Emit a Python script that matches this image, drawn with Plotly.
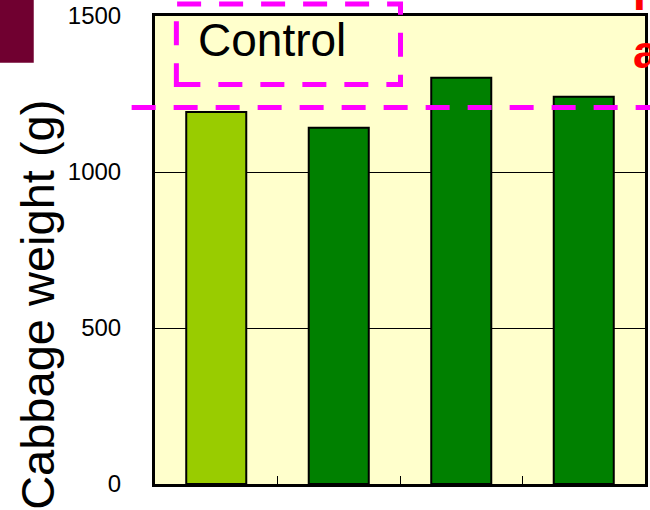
import plotly.graph_objects as go

# ---- data ----
categories = ["Control", "Treatment 1", "Treatment 2", "Treatment 3"]
weights = [1192, 1142, 1302, 1241]
bar_colors = ["#99CC00", "#008000", "#008000", "#008000"]
control_level = 1207
y_ticks = [0, 500, 1000, 1500]
y_title = "Cabbage weight (g)"
box_label = "Control"

# ---- layout geometry (pixels) ----
W, H = 650, 510
L, R, T, B = 155, 2, 13, 26
PW, PH = W - L - R, H - T - B


def px(x):
    return (x - L) / PW


def py(y):
    return (H - B - y) / PH


FONT = "Liberation Sans, Arial, sans-serif"
MAG = "#FF00FF"

fig = go.Figure(
    go.Bar(
        x=categories,
        y=weights,
        marker=dict(color=bar_colors, line=dict(color="black", width=2)),
        width=0.49,
    )
)

fig.update_layout(
    width=W,
    height=H,
    margin=dict(l=L, r=R, t=T, b=B),
    paper_bgcolor="white",
    plot_bgcolor="#FFFFCC",
    showlegend=False,
    font=dict(family=FONT, color="black"),
)

fig.update_xaxes(
    type="category",
    showticklabels=False,
    tickson="boundaries",
    ticks="inside",
    ticklen=8,
    tickwidth=1,
    tickcolor="black",
    showgrid=False,
    showline=True,
    linecolor="black",
    linewidth=3,
    mirror=True,
)
fig.update_yaxes(
    range=[0, 1500],
    tickvals=y_ticks,
    ticktext=[str(v) for v in y_ticks],
    tickfont=dict(size=24, family=FONT, color="black"),
    ticks="",
    ticklabelstandoff=26,
    ticklabeloverflow="allow",
    showgrid=True,
    gridcolor="black",
    gridwidth=1,
    zeroline=False,
    showline=True,
    linecolor="black",
    linewidth=3,
    mirror=True,
)

shapes = [
    # dark red block at top-left
    dict(type="rect", xref="paper", yref="paper",
         x0=px(0) - 0.01, x1=px(33), y0=py(60), y1=py(-5),
         fillcolor="#700030", line=dict(width=0), layer="above"),
    # control reference dashed line
    dict(type="line", xref="paper", yref="y",
         x0=px(131.5), x1=px(660), y0=control_level, y1=control_level,
         line=dict(color=MAG, width=5, dash="24px,18px"), layer="above"),
    # dashed box around the "Control" label
    dict(type="rect", xref="paper", yref="paper",
         x0=px(176.5), x1=px(402), y0=py(82), y1=py(1),
         line=dict(color=MAG, width=5, dash="24px,18px"), layer="above"),
]
fig.update_layout(shapes=shapes)

annotations = [
    dict(text=y_title, xref="paper", yref="paper", x=px(36), y=py(304),
         xanchor="center", yanchor="middle", textangle=-90, showarrow=False,
         font=dict(size=47, family=FONT, color="black")),
    dict(text=box_label, xref="paper", yref="paper", x=px(272.5), y=py(37),
         xanchor="center", yanchor="middle", showarrow=False,
         font=dict(size=46, family=FONT, color="black")),
    dict(text="<b>a</b>", xref="paper", yref="paper", x=px(634), y=py(49),
         xanchor="left", yanchor="middle", showarrow=False,
         font=dict(size=46, family=FONT, color="#FF0000")),
    dict(text="<b>I</b>", xref="paper", yref="paper", x=px(634), y=py(-9),
         xanchor="left", yanchor="middle", showarrow=False,
         font=dict(size=46, family=FONT, color="#FF0000")),
]
fig.update_layout(annotations=annotations)

fig.write_html(
    "out.html",
    config={"displayModeBar": False},
    post_script="document.body.style.margin='0';document.body.style.overflow='hidden';",
)
